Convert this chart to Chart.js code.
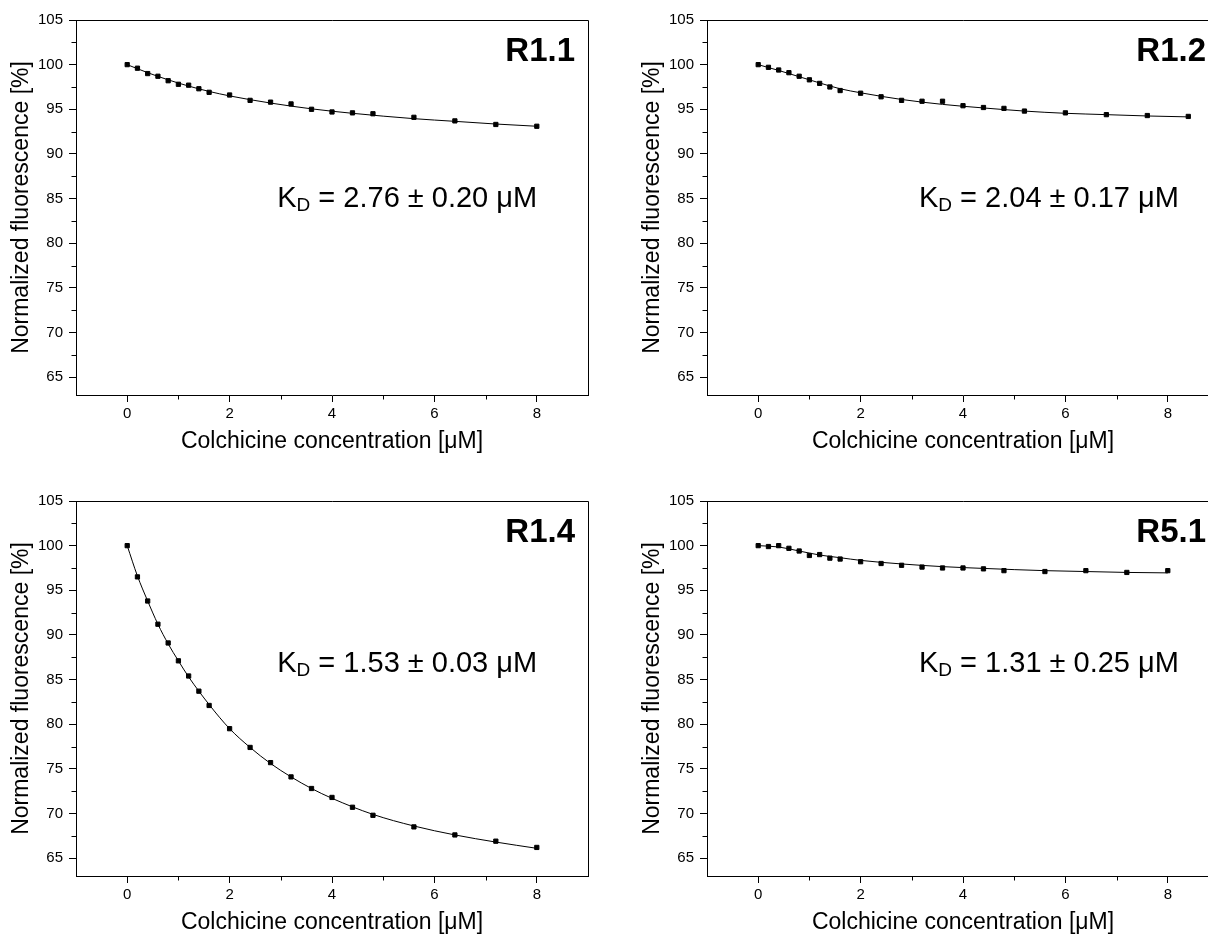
<!DOCTYPE html>
<html>
<head>
<meta charset="utf-8">
<title>Colchicine binding</title>
<script src="https://cdn.jsdelivr.net/npm/chart.js@4/dist/chart.umd.min.js"></script>
<style>
    html, body { margin: 0; padding: 0; background: #fff; }
    body { width: 1208px; height: 936px; overflow: hidden; position: relative; }
    canvas { position: absolute; }
</style>
</head>
<body>
<canvas id="r11" width="604" height="468" style="left:0px;top:0px"></canvas>
<canvas id="r12" width="604" height="468" style="left:631px;top:0px"></canvas>
<canvas id="r14" width="604" height="468" style="left:0px;top:481px"></canvas>
<canvas id="r51" width="604" height="468" style="left:631px;top:481px"></canvas>
<script>
// concentrations [uM]
const concA = [0, 0.2, 0.4, 0.6, 0.8, 1.0, 1.2, 1.4, 1.6, 2.0, 2.4, 2.8, 3.2, 3.6, 4.0, 4.4, 4.8, 5.6, 6.4, 7.2, 8.0];
const concB = [0, 0.2, 0.4, 0.6, 0.8, 1.0, 1.2, 1.4, 1.6, 2.0, 2.4, 2.8, 3.2, 3.6, 4.0, 4.4, 4.8, 5.2, 6.0, 6.8, 7.6, 8.4];

// normalized fluorescence [%]
const r11 = [100.0, 99.6, 99.0, 98.7, 98.2, 97.8, 97.7, 97.3, 96.9, 96.6, 96.0, 95.8, 95.6, 95.0, 94.7, 94.6, 94.5, 94.1, 93.7, 93.3, 93.1];
const r12 = [100.0, 99.7, 99.4, 99.1, 98.7, 98.3, 97.9, 97.5, 97.1, 96.8, 96.4, 96.0, 95.9, 95.9, 95.4, 95.2, 95.1, 94.8, 94.6, 94.4, 94.3, 94.2];
const r14 = [100.0, 96.5, 93.8, 91.2, 89.1, 87.1, 85.4, 83.7, 82.1, 79.5, 77.4, 75.7, 74.1, 72.8, 71.8, 70.7, 69.8, 68.5, 67.6, 66.9, 66.2];
const r51 = [100.0, 99.9, 100.0, 99.7, 99.4, 98.9, 99.0, 98.6, 98.5, 98.2, 98.0, 97.8, 97.6, 97.5, 97.5, 97.4, 97.2, 97.1, 97.2, 97.0, 97.2];

// fitted curves
const fitConc11 = [0, 0.4, 0.8, 1.2, 1.6, 2.0, 2.8, 3.6, 4.4, 5.6, 6.4, 7.2, 8.0];
const fit11 = [100.0, 99.1, 98.3, 97.6, 97.0, 96.5, 95.7, 95.05, 94.55, 93.95, 93.65, 93.35, 93.1];
const fitConc12 = [0, 0.4, 0.8, 1.2, 1.6, 2.0, 2.8, 3.6, 4.4, 5.2, 6.0, 6.8, 7.6, 8.4];
const fit12 = [100.0, 99.35, 98.65, 97.95, 97.3, 96.85, 96.1, 95.55, 95.15, 94.8, 94.55, 94.4, 94.25, 94.15];
const fitConc14 = [0, 0.2, 0.4, 0.6, 0.8, 1.0, 1.2, 1.6, 2.0, 2.4, 2.8, 3.2, 3.6, 4.0, 4.8, 5.6, 6.4, 7.2, 8.0];
const fit14 = [100.0, 96.6, 93.8, 91.2, 89.0, 87.1, 85.3, 82.2, 79.5, 77.4, 75.6, 74.1, 72.8, 71.7, 69.9, 68.6, 67.6, 66.8, 66.1];
const fitConc51 = [0, 0.4, 0.8, 1.2, 1.6, 2.0, 2.8, 3.6, 4.4, 5.6, 6.4, 7.2, 8.0];
const fit51 = [100.0, 99.85, 99.4, 98.95, 98.65, 98.35, 97.95, 97.65, 97.45, 97.2, 97.1, 97.0, 96.95];

// axis ticks
const xTicks = [0, 2, 4, 6, 8];
const xMinor = [1, 3, 5, 7];
const yTicks = [65, 70, 75, 80, 85, 90, 95, 100, 105];
const yMinor = [67.5, 72.5, 77.5, 82.5, 87.5, 92.5, 97.5, 102.5];

const FONT = 'Arial, "Liberation Sans", sans-serif';
Chart.defaults.font.family = FONT;
Chart.defaults.color = '#000';

const framePlugin = {
    id: 'frame',
    afterDraw(chart, args, opts) {
        const { ctx, chartArea: a, scales: { x, y } } = chart;
        ctx.save();
        ctx.strokeStyle = '#000';
        ctx.lineWidth = 1;
        ctx.beginPath();
        // top and right side of the box
        ctx.moveTo(Math.round(a.left), Math.round(a.top) + 0.5);
        ctx.lineTo(Math.round(a.right) + 0.5, Math.round(a.top) + 0.5);
        ctx.lineTo(Math.round(a.right) + 0.5, Math.round(a.bottom));
        // minor ticks
        xMinor.forEach(v => {
            const px = Math.round(x.getPixelForValue(v)) + 0.5;
            ctx.moveTo(px, Math.round(a.bottom));
            ctx.lineTo(px, Math.round(a.bottom) + 4.5);
        });
        yMinor.forEach(v => {
            const py = Math.round(y.getPixelForValue(v)) + 0.5;
            ctx.moveTo(Math.round(a.left), py);
            ctx.lineTo(Math.round(a.left) - 4.5, py);
        });
        ctx.stroke();

        ctx.fillStyle = '#000';
        ctx.textBaseline = 'alphabetic';
        ctx.textAlign = 'right';
        ctx.font = 'bold 33px ' + FONT;
        ctx.fillText(opts.name, a.right - 13, a.top + 41);

        const kx = x.getPixelForValue(opts.kdAt.x);
        const ky = y.getPixelForValue(opts.kdAt.y);
        ctx.textAlign = 'left';
        ctx.font = '29px ' + FONT;
        ctx.fillText('K', kx, ky);
        let w = ctx.measureText('K').width;
        ctx.font = '19px ' + FONT;
        ctx.fillText('D', kx + w, ky + 4);
        w += ctx.measureText('D').width;
        ctx.font = '29px ' + FONT;
        ctx.fillText(' = ' + opts.kd, kx + w, ky);
        ctx.restore();
    }
};

function pairs(xs, ys) {
    return xs.map((v, i) => ({ x: v, y: ys[i] }));
}

function makeChart(id, conc, values, fitConc, fitValues, name, kd, kdAt) {
    const ctx = document.getElementById(id).getContext('2d');
    return new Chart(ctx, {
        type: 'scatter',
        data: {
            datasets: [{
                label: name,
                data: pairs(conc, values),
                showLine: false,
                pointStyle: 'rect',
                pointRadius: 3,
                pointBorderWidth: 1,
                backgroundColor: '#000',
                borderColor: '#000'
            }, {
                label: name + ' fit',
                data: pairs(fitConc, fitValues),
                showLine: true,
                pointRadius: 0,
                borderWidth: 1,
                borderColor: '#000',
                cubicInterpolationMode: 'monotone'
            }]
        },
        options: {
            responsive: false,
            animation: false,
            layout: { padding: { top: 20, right: 16, left: 0, bottom: 0 } },
            plugins: {
                legend: { display: false },
                tooltip: { enabled: false },
                frame: { name: name, kd: kd, kdAt: kdAt }
            },
            scales: {
                x: {
                    type: 'linear',
                    min: -1,
                    max: 9,
                    afterBuildTicks: s => { s.ticks = xTicks.map(v => ({ value: v })); },
                    afterFit: s => { s.height = 73; },
                    ticks: { font: { size: 15 }, padding: 3, maxRotation: 0, autoSkip: false },
                    grid: { drawOnChartArea: false, tickLength: 7, tickColor: '#000', color: '#000' },
                    border: { color: '#000', width: 1 },
                    title: {
                        display: true,
                        text: 'Colchicine concentration [μM]',
                        font: { size: 23 },
                        padding: { top: 0, bottom: 13 }
                    }
                },
                y: {
                    type: 'linear',
                    min: 63,
                    max: 105,
                    afterBuildTicks: s => { s.ticks = yTicks.map(v => ({ value: v })); },
                    afterFit: s => { s.width = 76; },
                    ticks: { font: { size: 15 }, padding: 6, autoSkip: false },
                    grid: { drawOnChartArea: false, tickLength: 7, tickColor: '#000', color: '#000' },
                    border: { color: '#000', width: 1 },
                    title: {
                        display: true,
                        text: 'Normalized fluorescence [%]',
                        font: { size: 23 },
                        padding: { top: 8, bottom: 8 }
                    }
                }
            }
        },
        plugins: [framePlugin]
    });
}

window.onload = () => {
    makeChart('r11', concA, r11, fitConc11, fit11, 'R1.1', '2.76 ± 0.20 μM', { x: 2.93, y: 84.1 });
    makeChart('r12', concB, r12, fitConc12, fit12, 'R1.2', '2.04 ± 0.17 μM', { x: 3.14, y: 84.1 });
    makeChart('r14', concA, r14, fitConc14, fit14, 'R1.4', '1.53 ± 0.03 μM', { x: 2.93, y: 85.8 });
    makeChart('r51', concA, r51, fitConc51, fit51, 'R5.1', '1.31 ± 0.25 μM', { x: 3.14, y: 85.8 });
};
</script>
</body>
</html>
